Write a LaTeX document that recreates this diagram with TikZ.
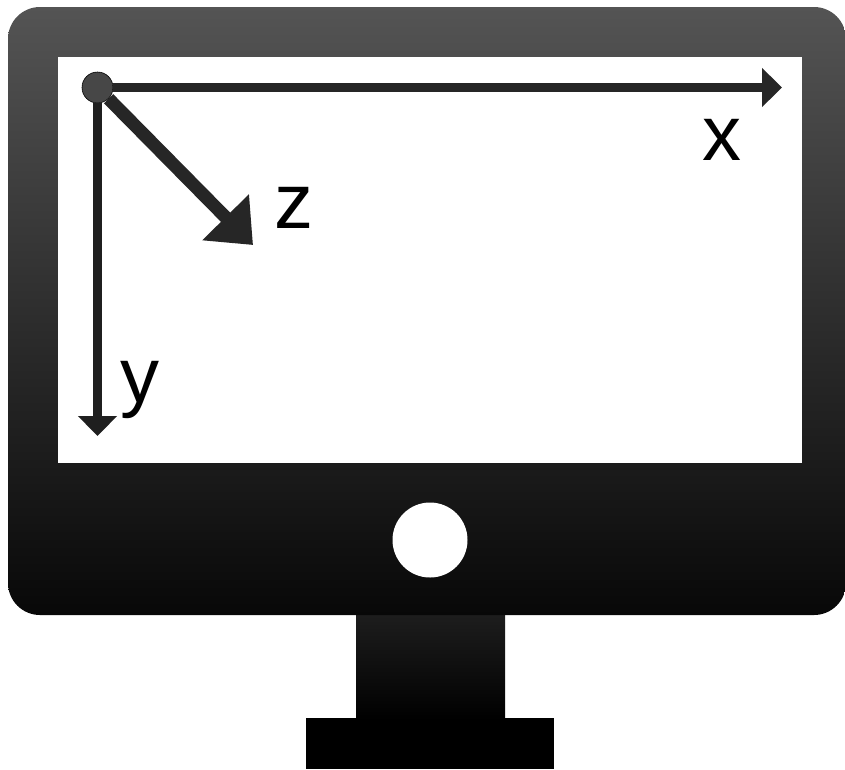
\documentclass[tikz,border=0pt]{standalone}
\usepackage{fontspec}
\setmainfont{Liberation Sans}
\usetikzlibrary{arrows.meta,positioning,calc}
\definecolor{ink}{RGB}{38,38,38}
\definecolor{bezeltop}{RGB}{84,84,84}
\definecolor{bezelbottom}{RGB}{8,8,8}
\tikzset{
  axislabel/.style={inner sep=0pt,text=black,font=\fontsize{78}{78}\selectfont},
  axisline/.style={draw=ink,line width=8.5pt,-{Triangle[length=20pt,width=38pt]}},
}
\begin{document}
\begin{tikzpicture}[x=1pt,y=-1pt]
  \useasboundingbox (0,0) rectangle (845,769);
  % stand
  \fill[black] (306,718) rectangle (554,769);
  \fill[top color=black!88,bottom color=black] (356,610) rectangle (505,720);
  % monitor
  \path[top color=bezeltop,bottom color=bezelbottom,rounded corners=32pt]
    (8,7) rectangle (846,615);
  \fill[white] (58,57) rectangle (802,463);
  \node[circle,fill=white,minimum size=75pt,inner sep=0pt] (knob) at (430,540) {};
  % axes
  \node[circle,fill=ink!85,draw=black,line width=.6pt,minimum size=31pt,inner sep=0pt] (origin) at (97.5,87.5) {};
  \coordinate (xend) at (782,87.5);
  \coordinate (yend) at (97.5,436);
  \coordinate (zend) at (253,245);
  \draw[axisline] (origin) -- (xend);
  \draw[axisline,draw=black!88] (origin) -- (yend);
  \draw[draw=ink,line width=13pt,-{Triangle[length=39pt,width=63pt]}] (origin) -- (zend);
  \node[axislabel] (xlabel) at (721.5,139.5) {x};
  \node[axislabel] (ylabel) at (140,390) {y};
  \node[axislabel] (zlabel) at (293.5,207.5) {z};
\end{tikzpicture}
\end{document}
